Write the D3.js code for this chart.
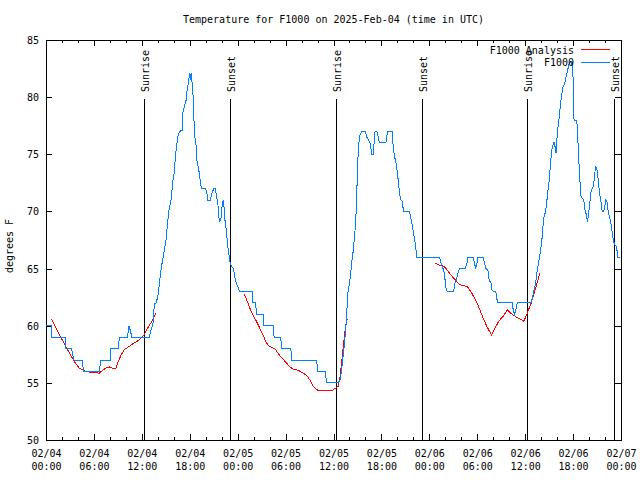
<!DOCTYPE html>
<html>
<head>
<meta charset="utf-8">
<script src="https://cdn.jsdelivr.net/npm/d3@7"></script>
<style>
  html, body { margin: 0; padding: 0; background: #fff; }
  svg text { font-family: "DejaVu Sans Mono", "Liberation Mono", monospace; font-size: 10px; fill: #000; }
</style>
</head>
<body>
<svg id="chart" width="640" height="480"></svg>
<script>
// ---------------- DATA ----------------
const titleText = "Temperature for F1000 on 2025-Feb-04 (time in UTC)";
const yLabelText = "degrees F";
const startTime = "2025-02-04T00:00:00Z";
const endTime = "2025-02-07T00:00:00Z";
const yTicks = [50, 55, 60, 65, 70, 75, 80, 85];

// Observed F1000 temperature (hours since 02/04 00:00 UTC, °F)
const obsHours = [0, 0.67, 0.7, 2.47, 2.5, 3.18, 3.5, 4.56, 4.69, 6.66, 6.87, 8.04, 8.12, 9.09, 9.17, 10.2, 10.4, 10.76,
  12.94, 13.15, 13.4, 13.57, 13.78, 13.99, 14.2, 14.4, 14.6, 14.82, 15.03, 15.16, 15.37, 15.66, 15.87, 16.08, 16.2, 16.37,
  16.5, 16.71, 17.04, 17.13, 17.25, 17.55, 17.67, 17.88, 17.96, 18.09, 18.17, 18.38, 18.47, 18.59, 18.8, 18.89, 19.14,
  19.3, 19.47, 19.97, 20.14, 20.27, 20.56, 20.77, 21.02, 21.19, 21.36, 21.52, 21.65, 21.78, 21.94, 22.07, 22.24,
  22.36, 22.57, 22.78, 22.99, 23.2, 23.49, 23.62, 23.83, 24.04, 24.25, 25.8, 25.92, 26.26, 26.34, 27.18, 27.3, 28.43,
  28.56, 29.4, 29.48, 30.65, 30.78, 33.88, 34.05, 34.97, 35.13, 36.6, 36.81, 37.02, 37.14, 37.31, 37.44, 37.56, 37.65,
  37.77, 37.98, 38.15, 38.32, 38.48, 38.61, 38.74, 38.82, 38.9, 38.99, 39.11, 39.32, 39.53, 39.99, 40.16, 40.58, 40.79,
  41.0, 41.08, 41.21, 41.42, 41.62, 41.75, 42.55, 42.67, 42.76, 43.34, 43.43, 43.59, 43.84, 44.01, 44.14, 44.26, 44.43,
  44.6, 44.77, 45.52, 45.81, 46.02, 46.23, 46.44, 49.29, 49.46, 49.67, 49.79, 49.92, 50.13, 50.29, 51.05, 51.17, 51.38,
  51.59, 51.8, 52.51, 52.72, 52.85, 53.48, 53.64, 53.81, 53.98, 54.1, 54.73, 54.9, 55.07, 55.32, 55.49, 55.74, 55.86,
  56.07, 56.32, 56.41, 56.57, 58.38, 58.5, 58.67, 58.84, 59.0, 60.76, 60.93, 61.1, 61.31, 61.52, 61.73, 61.93, 62.06,
  62.23, 62.35, 62.56, 62.69, 62.81, 62.98, 63.11, 63.23, 63.4, 63.61, 63.74, 63.86, 63.94, 64.11, 64.28, 64.4, 64.57,
  64.74, 64.95, 65.12, 65.28, 65.45, 65.62, 65.79, 65.91, 66.04, 66.12, 66.42, 66.54, 66.67, 66.83, 67.0, 67.17, 67.34,
  67.5, 67.67, 67.8, 67.88, 68.05, 68.22, 68.38, 68.55, 68.68, 68.8, 68.97, 69.05, 69.18, 69.3, 69.47, 69.64, 69.81,
  69.97, 70.1, 70.23, 70.4, 70.56, 70.73, 70.9, 71.06, 71.23, 71.44, 71.61, 71.9];
const obsTemps = [60, 60, 59, 59, 58, 58, 57, 57, 56, 56, 57, 57, 58, 58, 59, 59, 60, 59,
  59, 59.6, 60.2, 61.9, 62, 62.5, 63.7, 64.9, 65.75, 66.6, 67.5, 68.5, 70, 71, 72.6, 73.5, 74.8, 75.8,
  76.5, 77, 77.1, 78.6, 79, 79.75, 80.6, 81.5, 82.1, 81.5, 82.1, 80.6, 79.2, 76.8, 75.7, 74.5, 73.6,
  72.75, 72, 72, 71.6, 71, 71, 71.6, 72, 72, 71.3, 70.7, 69.5, 69.1, 69.5, 70.7, 71,
  69.5, 68.4, 66.9, 65.75, 65.2, 65, 64.3, 63.7, 63.4, 63, 63, 62, 62, 61, 61, 60, 60,
  59, 59, 58, 58, 57, 57, 56, 56, 55, 55, 55.25, 56.1, 57, 58, 59, 60, 60.9,
  62.8, 63.6, 64.6, 65.75, 66.6, 67.65, 68.7, 69.8, 71.6, 73, 75.7, 76.7, 77, 77, 76.5, 76, 75,
  75, 76, 77, 77, 76.5, 76, 76, 76.5, 77, 77, 76, 75, 74.2, 73.3, 72.5, 71.6, 71,
  70.9, 70, 70, 69, 68.1, 67.2, 66, 66, 65.5, 65, 65, 64.3, 63.1, 63, 63, 63.7, 64,
  64.6, 65, 65, 65.5, 66, 66, 65.5, 65, 65.5, 66, 66, 65.5, 65, 64.9, 64, 63.7, 63.1,
  63, 63, 62.5, 62, 62, 61.4, 61, 61.4, 62, 62, 62.5, 63.1, 63.7, 64.9, 65.75, 66.6, 67.2,
  68.7, 69.5, 70, 70.7, 71.6, 72.5, 73.6, 74.65, 75.67, 76.1, 75.67, 75.1, 76, 77.4, 78.3, 79.3, 80.2,
  80.9, 81.2, 81.8, 82.2, 82.8, 83.1, 82.9, 83.1, 80.9, 78, 78, 77.4, 75.1, 73, 71.3, 71.15, 71,
  70.1, 69.7, 69.1, 69.5, 70.4, 71.6, 72, 72.2, 73, 73.9, 73.8, 73.3, 72.6, 71.6, 71, 70, 70,
  70.4, 71, 70.9, 70, 69.5, 69, 68.2, 67.4, 67.1, 66.9, 66, 66];

// F1000 Analysis (null = gap between runs)
const anaHours = [0.67, 1.84, 2.47, 3.1, 3.52, 4.15, 4.98, 5.82, 6.66, 7.08, 7.5, 7.9, 8.25, 8.75, 8.96, 9.38, 9.8,
  10.43, 11.06, 11.68, 11.9, 12.3, 12.73, 13.36, 13.78, null,
  24.79, 25.29, 25.71, 26.34, 26.97, 27.6, 27.94, 28.64, 29.27, 29.9, 30.53, 30.95, 31.58, 32.2, 32.71, 33.04, 33.46,
  33.88, 34.3, 35.13, 35.76, 36.18, 36.6, 36.81, 37.1, 37.35, 37.52, 37.73, null,
  48.74, 49.29, 49.79, 50.21, 50.63, 51.26, 51.8, 52.3, 52.8, 53.35, 53.98, 54.6, 55.23, 55.78, 56.07, 56.7, 57.33,
  57.75, 58.17, 58.8, 59.42, 59.84, 60.26, 60.76, 61.31, 61.85];
const anaTemps = [60.6, 59.0, 58.2, 57.4, 56.9, 56.3, 56.0, 55.9, 55.85, 56.1, 56.3, 56.4, 56.3, 56.3, 56.7, 57.4, 57.9,
  58.2, 58.5, 58.75, 58.9, 59.2, 59.8, 60.5, 61.1, null,
  62.8, 62, 61.2, 60.4, 59.5, 58.5, 58.2, 58.0, 57.4, 56.9, 56.4, 56.2, 56.1, 55.85, 55.6, 55.25, 54.7,
  54.4, 54.3, 54.3, 54.3, 54.5, 54.7, 55.5, 57.3, 59.0, 60.0, 60.6, null,
  65.45, 65.3, 65.2, 64.9, 64.5, 64.0, 63.6, 63.5, 63.4, 62.8, 62.0, 60.9, 59.9, 59.2, 59.6, 60.4, 60.9,
  61.4, 61.1, 60.8, 60.55, 60.4, 61.1, 62.0, 63.3, 64.6];

// Sun events (hours since 02/04 00:00 UTC)
const sunEventHours = [12.22, 23.08, 36.28, 47.05, 60.28, 71.12];
const sunEventLabels = ["Sunrise", "Sunset", "Sunrise", "Sunset", "Sunrise", "Sunset"];

const seriesNames = ["F1000 Analysis", "F1000"];
const seriesColors = ["#ff0000", "#0080ff"];

// ---------------- CHART ----------------
(function () {
const svg = d3.select("#chart");
const pLeft = 46, pRight = 621, pTop = 40, pBottom = 440;
const t0 = new Date(startTime), t1 = new Date(endTime);
const hourToDate = h => new Date(t0.getTime() + h * 3600000);

const x = d3.scaleUtc().domain([t0, t1]).range([pLeft, pRight]);
const y = d3.scaleLinear().domain([50, 85]).range([pBottom, pTop]);

const majorTicks = d3.utcHour.every(6).range(t0, new Date(t1.getTime() + 1));
const minorTicks = d3.utcHour.every(2).range(t0, new Date(t1.getTime() + 1)).filter(d => d.getUTCHours() % 6 !== 0);
const fmtDay = d3.utcFormat("%m/%d"), fmtTime = d3.utcFormat("%H:%M");

function styleAxis(g) {
  g.select(".domain").remove();
  g.selectAll("line").attr("stroke", "#000").attr("shape-rendering", "crispEdges");
  g.selectAll("text").attr("fill", "#000");
  g.attr("font-family", null).attr("font-size", null);
}

// bottom major with labels
const gxb = svg.append("g").attr("transform", `translate(0,${pBottom})`)
  .call(d3.axisBottom(x).tickValues(majorTicks).tickSizeInner(-6).tickSizeOuter(0).tickFormat(d => fmtDay(d)));
styleAxis(gxb);
gxb.selectAll(".tick text").each(function(d) {
  const t = d3.select(this).attr("y", 0).attr("dy", null).text(null).attr("text-anchor", "middle");
  t.append("tspan").attr("x", 0).attr("y", 17).text(fmtDay(d));
  t.append("tspan").attr("x", 0).attr("y", 30).text(fmtTime(d));
});
// bottom minor
styleAxis(svg.append("g").attr("transform", `translate(0,${pBottom})`)
  .call(d3.axisBottom(x).tickValues(minorTicks).tickSizeInner(-3).tickSizeOuter(0).tickFormat("")));
// top mirrors
styleAxis(svg.append("g").attr("transform", `translate(0,${pTop})`)
  .call(d3.axisTop(x).tickValues(majorTicks).tickSizeInner(-6).tickSizeOuter(0).tickFormat("")));
styleAxis(svg.append("g").attr("transform", `translate(0,${pTop})`)
  .call(d3.axisTop(x).tickValues(minorTicks).tickSizeInner(-3).tickSizeOuter(0).tickFormat("")));

// left y axis
const gyl = svg.append("g").attr("transform", `translate(${pLeft},0)`)
  .call(d3.axisLeft(y).tickValues(yTicks).tickSizeInner(-6).tickSizeOuter(0).tickFormat(d3.format("d")));
styleAxis(gyl);
gyl.selectAll(".tick text").attr("x", -7).attr("dy", "0.35em").attr("text-anchor", "end");
// right mirror
styleAxis(svg.append("g").attr("transform", `translate(${pRight},0)`)
  .call(d3.axisRight(y).tickValues(yTicks).tickSizeInner(-6).tickSizeOuter(0).tickFormat("")));

// border
svg.append("rect").attr("x", pLeft + 0.5).attr("y", pTop + 0.5)
  .attr("width", pRight - pLeft).attr("height", pBottom - pTop)
  .attr("fill", "none").attr("stroke", "#000").attr("shape-rendering", "crispEdges");

// sun event lines + labels
sunEventHours.forEach((h, i) => {
  const xp = Math.round(x(hourToDate(h))) + 0.5;
  svg.append("line").attr("x1", xp).attr("x2", xp).attr("y1", 99).attr("y2", pBottom)
    .attr("stroke", "#000").attr("shape-rendering", "crispEdges");
  svg.append("text").attr("transform", `translate(${xp + 4.5},92) rotate(-90)`)
    .attr("text-anchor", "start").text(sunEventLabels[i]);
});

// data lines
const obs = obsHours.map((h, i) => [hourToDate(h), obsTemps[i]]);
const ana = anaHours.map((h, i) => [h === null ? null : hourToDate(h), anaTemps[i]]);
const line = d3.line().defined(d => d[0] !== null && d[1] !== null).x(d => x(d[0])).y(d => y(d[1]));

svg.append("path").datum(ana).attr("d", line).attr("fill", "none")
  .attr("stroke", seriesColors[0]).attr("stroke-width", 1).attr("shape-rendering", "crispEdges");
svg.append("path").datum(obs).attr("d", line).attr("fill", "none")
  .attr("stroke", seriesColors[1]).attr("stroke-width", 1).attr("shape-rendering", "crispEdges");

// title
svg.append("text").attr("x", (pLeft + pRight) / 2).attr("y", 23).attr("text-anchor", "middle").text(titleText);
// y label
svg.append("text").attr("transform", `translate(13,246) rotate(-90)`).attr("text-anchor", "middle").text(yLabelText);

// legend
seriesNames.forEach((name, i) => {
  const ly = 50 + i * 12.7;
  svg.append("text").attr("x", 574).attr("y", ly).attr("dy", "0.35em").attr("text-anchor", "end").text(name);
  svg.append("line").attr("x1", 581).attr("x2", 610).attr("y1", Math.round(ly) - 0.5).attr("y2", Math.round(ly) - 0.5)
    .attr("stroke", seriesColors[i]).attr("shape-rendering", "crispEdges");
});
})();
</script>
</body>
</html>
